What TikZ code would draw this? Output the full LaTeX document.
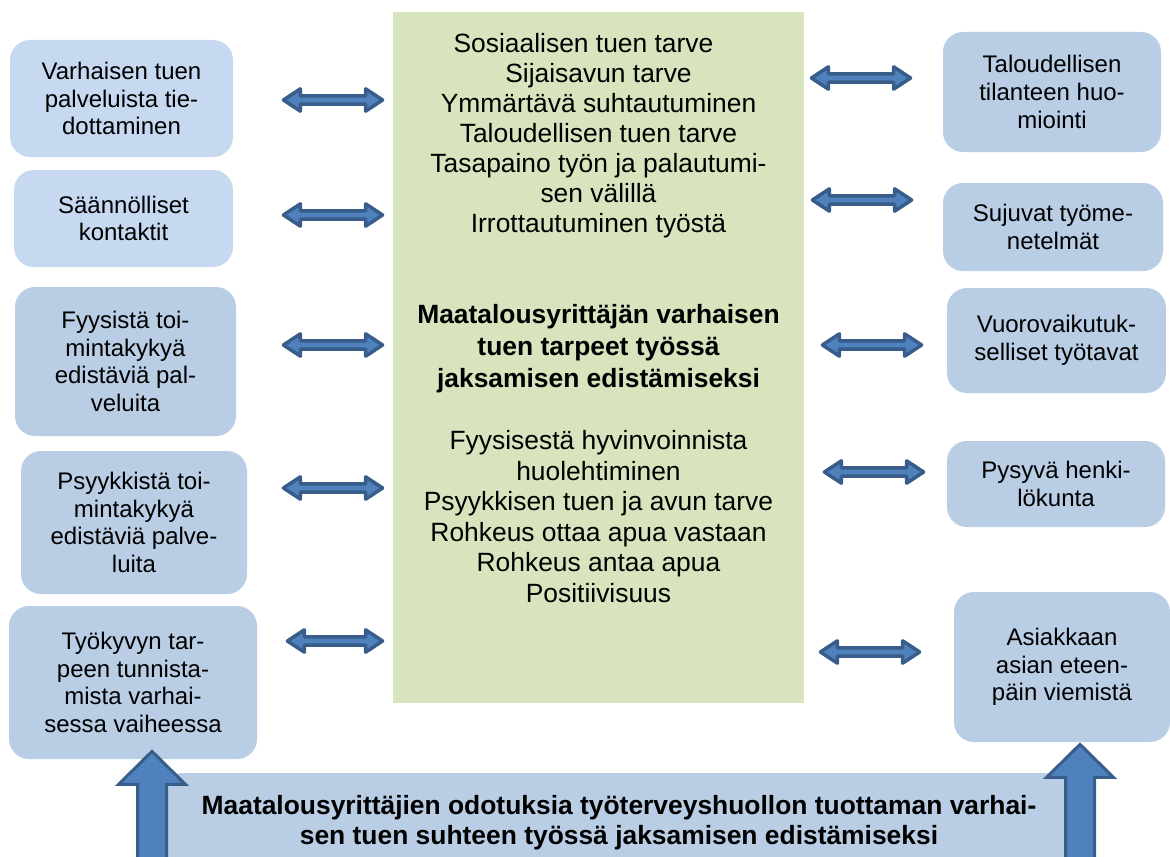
\documentclass[tikz,border=0pt]{standalone}
\usepackage{fontspec}
\setmainfont{Liberation Sans}
\usetikzlibrary{calc}

\definecolor{boxlight}{HTML}{C6D9F1}
\definecolor{boxblue}{HTML}{B9CDE5}
\definecolor{needgreen}{HTML}{D7E4BD}
\definecolor{arrowfill}{HTML}{4F81BD}
\definecolor{arrowedge}{HTML}{385D8A}

\begin{document}
\begin{tikzpicture}[
        x=0.5pt, y=-0.5pt,
        box/.style={rectangle, rounded corners=10pt, fill=boxblue, align=center, inner sep=0pt,
          font=\fontsize{12pt}{13.8pt}\selectfont},
        needtext/.style={align=center, inner sep=0pt, font=\fontsize{13.2pt}{15pt}\selectfont},
        link/.style={draw=arrowedge, fill=arrowfill, line width=1.75pt, line join=round,
          to path={let \p1=(\tikztostart), \p2=(\tikztotarget) in
            (\x1,\y1) -- (\x1+8.5pt,\y1+5.6pt) -- (\x1+8.5pt,\y1+2.1pt) -- (\x2-8.5pt,\y1+2.1pt)
            -- (\x2-8.5pt,\y1+5.6pt) -- (\x2,\y1) -- (\x2-8.5pt,\y1-5.6pt) -- (\x2-8.5pt,\y1-2.1pt)
            -- (\x1+8.5pt,\y1-2.1pt) -- (\x1+8.5pt,\y1-5.6pt) -- cycle}},
        uplink/.style={draw=arrowedge, fill=arrowfill, line width=1.5pt,
          to path={let \p1=(\tikztostart), \p2=(\tikztotarget) in
            (\x1-7.25pt,\y1) -- (\x1-7.25pt,\y2-16.5pt) -- (\x1-16.75pt,\y2-16.5pt) -- (\x1,\y2)
            -- (\x1+16.75pt,\y2-16.5pt) -- (\x1+7.25pt,\y2-16.5pt) -- (\x1+7.25pt,\y1) -- cycle}}
      ]
      \useasboundingbox (0,0) rectangle (1170,856);

      % Needs in the middle
      \node[fill=needgreen, minimum width=205.5pt, minimum height=345.5pt, inner sep=0pt] (needs) at (598.5,357.5) {};
      \node[needtext] (upper) at (598.5,136) {Sosiaalisen tuen tarve\hspace*{15pt}\\Sijaisavun tarve\\Ymmärtävä suhtautuminen\\Taloudellisen tuen tarve\\Tasapaino työn ja palautumi-\\sen välillä\\Irrottautuminen työstä};
      \node[needtext, font=\fontsize{13.2pt}{16pt}\selectfont\bfseries] (title) at (598.5,349) {Maatalousyrittäjän varhaisen\\tuen tarpeet työssä\\jaksamisen edistämiseksi};
      \node[needtext, font=\fontsize{13.2pt}{15.3pt}\selectfont] (lower) at (598.5,516.5) {Fyysisestä hyvinvoinnista\\huolehtiminen\\Psyykkisen tuen ja avun tarve\\Rohkeus ottaa apua vastaan\\Rohkeus antaa apua\\Positiivisuus};

      % Left column
      \node[box, fill=boxlight, minimum width=111.5pt, minimum height=58.5pt] (L1) at (121.5,98.5) {Varhaisen tuen\\palveluista tie-\\dottaminen};
      \node[box, fill=boxlight, minimum width=109.5pt, minimum height=48.5pt] (L2) at (123.5,218.5) {Säännölliset\\kontaktit};
      \node[box, minimum width=110.5pt, minimum height=74.5pt] (L3) at (125.5,361.5) {Fyysistä toi-\\mintakykyä\\edistäviä pal-\\veluita};
      \node[box, minimum width=113pt, minimum height=71.5pt] (L4) at (134,522.5) {Psyykkistä toi-\\mintakykyä\\edistäviä palve-\\luita};
      \node[box, minimum width=124pt, minimum height=76.5pt] (L5) at (133,682.5) {Työkyvyn tar-\\peen tunnista-\\mista varhai-\\sessa vaiheessa};

      % Right column
      \node[box, minimum width=109pt, minimum height=60pt] (R1) at (1052,92) {Taloudellisen\\tilanteen huo-\\miointi};
      \node[box, minimum width=110pt, minimum height=44pt] (R2) at (1053,227) {Sujuvat työme-\\netelmät};
      \node[box, minimum width=109.5pt, minimum height=52.5pt] (R3) at (1056.5,340.5) {Vuorovaikutuk-\\selliset työtavat};
      \node[box, minimum width=109pt, minimum height=43pt] (R4) at (1056,484) {Pysyvä henki-\\lökunta};
      \node[box, minimum width=108pt, minimum height=75pt] (R5) at (1062,667) {Asiakkaan\\asian eteen-\\päin viemistä};

      % Expectations at the bottom
      \node[box, font=\fontsize{13.2pt}{15pt}\selectfont\bfseries, minimum width=456pt, minimum height=50pt] (summary) at (619,823) {Maatalousyrittäjien odotuksia työterveyshuollon tuottaman varhai-\\sen tuen suhteen työssä jaksamisen edistämiseksi};

      % Connections
      \foreach \nm/\yy/\aa in {L1/100/50, L2/215/50, L3/345/47, L4/488/36, L5/641/30}
        \draw[link] ($(\nm.east |- 0,\yy)+(\aa,0)$) to ($(needs.west |- 0,\yy)+(-10,0)$);
      \foreach \nm/\yy/\aa/\bb in {R1/78/7/32, R2/200/8/31, R3/345/18/25, R4/472/20/23, R5/652/16/34}
        \draw[link] ($(needs.east |- 0,\yy)+(\aa,0)$) to ($(\nm.west |- 0,\yy)+(-\bb,0)$);

      \coordinate (lfoot) at (152,880);
      \coordinate (rfoot) at (1080,880);
      \draw[uplink] (lfoot) to ($(lfoot |- L5.south)+(0,-8)$);
      \draw[uplink] (rfoot) to ($(rfoot |- R5.south)+(0,2)$);

      \end{tikzpicture}
\end{document}
